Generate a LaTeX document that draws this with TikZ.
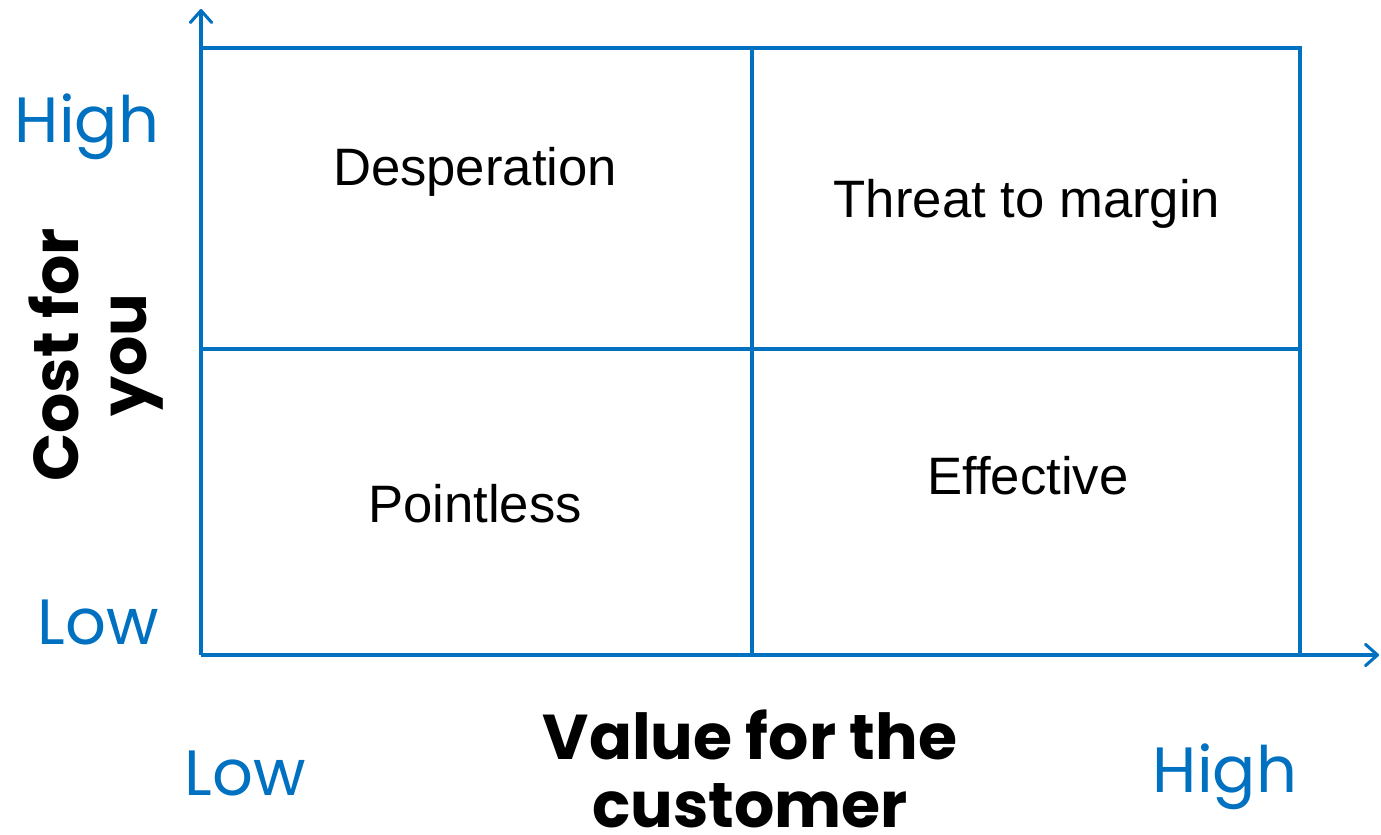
\documentclass[tikz,border=0pt]{standalone}
\usepackage{fontspec}
\setmainfont{Liberation Sans}
\newfontfamily\axisfont{Poppins}
\usetikzlibrary{arrows.meta}
\definecolor{achsblau}{HTML}{0070C0}

\begin{document}
\begin{tikzpicture}[x=0.75pt, y=-0.75pt,
  achse/.style={line width=2.3pt, color=achsblau},
  stufe/.style={font=\axisfont\fontsize{48}{56}\selectfont, text=achsblau, inner sep=0pt},
  feld/.style={font=\fontsize{39.5}{46}\selectfont, inner sep=0pt},
  titel/.style={font=\axisfont\bfseries\fontsize{47.5}{51}\selectfont, align=center, inner sep=0pt}
]
\useasboundingbox (0,0) rectangle (1381,835);

\coordinate (O) at (201,655);
\coordinate (ytip) at (201,9);
\coordinate (xtip) at (1379,655);

% Achsen
\draw[achse, -{Straight Barb[round, length=9pt, width=16pt]}] (O) -- (ytip);
\draw[achse, -{Straight Barb[round, length=9pt, width=16pt]}] (O) -- (xtip);

% Raster
\begin{scope}[achse]
  \draw (201,48) -- (1300,48) -- (1300,655);
  \draw (752,48) -- (752,655);
  \draw (201,349) -- (1300,349);
\end{scope}

% Felder
\node[feld] (desp) at (475,172) {Desperation};
\node[feld] (threat) at (1027,204) {Threat to margin};
\node[feld] (point) at (475,504) {Pointless};
\node[feld] (eff) at (1028,476) {Effective};

% Stufen
\node[stufe] (yhigh) at (87,127) {High};
\node[stufe] (ylow) at (98,622) {Low};
\node[stufe] (xlow) at (245,773) {Low};
\node[stufe] (xhigh) at (1225,777) {High};

% Beschriftung
\node[titel] (xlab) at (750,769) {Value for the\\customer};
\node[titel, rotate=90] (ylab) at (96,355) {Cost for\\you};

\end{tikzpicture}
\end{document}
